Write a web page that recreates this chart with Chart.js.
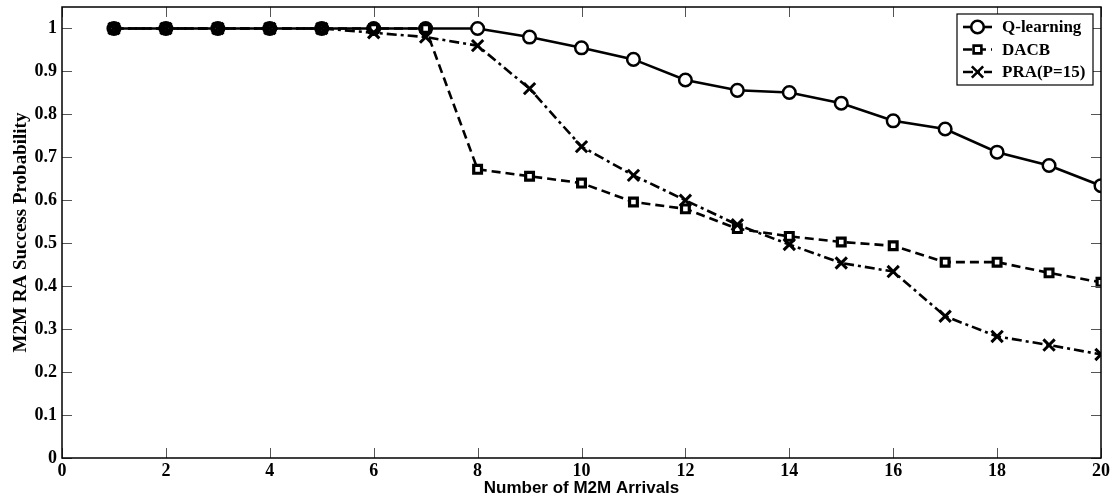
<!DOCTYPE html>
<html>
<head>
<meta charset="utf-8">
<script src="https://cdn.jsdelivr.net/npm/chart.js@4.4.1/dist/chart.umd.min.js"></script>
<style>
  html, body { margin: 0; padding: 0; background: #fff; }
  #wrap { width: 1112px; height: 499px; }
</style>
</head>
<body>
<div id="wrap"><canvas id="chart" width="1112" height="499"></canvas></div>
<script>
const arrivals = [1, 2, 3, 4, 5, 6, 7, 8, 9, 10, 11, 12, 13, 14, 15, 16, 17, 18, 19, 20];
const qLearning = [1, 1, 1, 1, 1, 1, 1, 1, 0.98, 0.955, 0.928, 0.88, 0.856, 0.851, 0.826, 0.785, 0.766, 0.712, 0.681, 0.634];
const dacb = [1, 1, 1, 1, 1, 1, 1, 0.672, 0.656, 0.64, 0.596, 0.58, 0.534, 0.516, 0.503, 0.494, 0.456, 0.456, 0.431, 0.409];
const pra = [1, 1, 1, 1, 1, 0.99, 0.98, 0.96, 0.86, 0.725, 0.658, 0.6, 0.543, 0.497, 0.454, 0.434, 0.33, 0.283, 0.263, 0.241];
const seriesNames = ['Q-learning', 'DACB', 'PRA(P=15)'];

const serif = '"Liberation Serif", "Times New Roman", serif';
const sans = '"Liberation Sans", Arial, sans-serif';

function pts(ys) {
  return arrivals.map((x, i) => ({ x: x, y: ys[i] }));
}

// inward ticks on all four sides + frame
const frameTicks = {
  id: 'frameTicks',
  afterDatasetsDraw(chart) {
    const ctx = chart.ctx;
    const a = chart.chartArea;
    const xs = chart.scales.x, ys = chart.scales.y;
    ctx.save();
    ctx.strokeStyle = '#555';
    ctx.lineWidth = 1;
    ctx.beginPath();
    xs.ticks.forEach(t => {
      const px = Math.round(xs.getPixelForValue(t.value)) + 0.5;
      ctx.moveTo(px, a.bottom); ctx.lineTo(px, a.bottom - 10);
      ctx.moveTo(px, a.top); ctx.lineTo(px, a.top + 10);
    });
    ys.ticks.forEach(t => {
      const py = Math.round(ys.getPixelForValue(t.value)) + 0.5;
      ctx.moveTo(a.left, py); ctx.lineTo(a.left + 10, py);
      ctx.moveTo(a.right, py); ctx.lineTo(a.right - 10, py);
    });
    ctx.stroke();
    ctx.strokeStyle = '#000';
    ctx.lineWidth = 1.5;
    ctx.strokeRect(a.left, a.top, a.right - a.left, a.bottom - a.top);
    ctx.restore();
  }
};

// boxed legend in the upper right corner of the plot
const boxLegend = {
  id: 'boxLegend',
  afterDraw(chart) {
    const ctx = chart.ctx;
    const a = chart.chartArea;
    const bx = a.right - 144, by = a.top + 7, bw = 136, bh = 71;
    ctx.save();
    ctx.fillStyle = '#fff';
    ctx.fillRect(bx, by, bw, bh);
    ctx.strokeStyle = '#000';
    ctx.lineWidth = 1.2;
    ctx.strokeRect(bx, by, bw, bh);
    seriesNames.forEach((name, i) => {
      const ds = chart.data.datasets.find(d => d.label === name);
      const cy = by + 13 + i * 22.5;
      ctx.strokeStyle = '#000';
      ctx.lineWidth = ds.borderWidth;
      ctx.setLineDash(ds.borderDash || []);
      ctx.beginPath();
      ctx.moveTo(bx + 6, cy); ctx.lineTo(bx + 35, cy);
      ctx.stroke();
      ctx.setLineDash([]);
      ctx.fillStyle = ds.pointBackgroundColor;
      Chart.helpers.drawPoint(ctx, {
        pointStyle: ds.pointStyle, radius: ds.pointRadius, borderWidth: ds.pointBorderWidth, rotation: 0
      }, bx + 20.5, cy);
      ctx.fillStyle = '#000';
      ctx.font = 'bold 17px ' + serif;
      ctx.textBaseline = 'middle';
      ctx.textAlign = 'left';
      ctx.fillText(name, bx + 45, cy + 1);
    });
    ctx.restore();
  }
};

new Chart(document.getElementById('chart'), {
  type: 'line',
  data: {
    datasets: [
      {
        label: seriesNames[0], data: pts(qLearning), order: 2,
        borderColor: '#000', borderWidth: 2.6,
        pointStyle: 'circle', pointRadius: 6.3, pointBorderWidth: 2.5,
        pointBackgroundColor: '#fff', pointBorderColor: '#000'
      },
      {
        label: seriesNames[1], data: pts(dacb), order: 1,
        borderColor: '#000', borderWidth: 2.6, borderDash: [9, 5],
        pointStyle: 'rect', pointRadius: 5.5, pointBorderWidth: 3.2,
        pointBackgroundColor: '#fff', pointBorderColor: '#000'
      },
      {
        label: seriesNames[2], data: pts(pra), order: 0,
        borderColor: '#000', borderWidth: 2.6, borderDash: [10, 4, 3, 4],
        pointStyle: 'crossRot', pointRadius: 8, pointBorderWidth: 3,
        pointBackgroundColor: '#000', pointBorderColor: '#000'
      }
    ]
  },
  options: {
    responsive: false,
    animation: false,
    layout: { autoPadding: false, padding: { top: 7, right: 11, left: 0, bottom: 0 } },
    plugins: {
      legend: { display: false },
      tooltip: { enabled: false }
    },
    scales: {
      x: {
        type: 'linear', min: 0, max: 20,
        grid: { display: false, drawTicks: false },
        border: { display: false },
        ticks: { stepSize: 2, color: '#000', font: { family: serif, size: 18, weight: 'bold' }, padding: 3, maxRotation: 0 },
        title: { display: true, text: 'Number of M2M Arrivals', color: '#000', font: { family: sans, size: 17, weight: 'bold' }, padding: { top: -3, bottom: 0 } },
        afterFit(scale) { scale.height = 41; scale.paddingLeft = 0; scale.paddingRight = 0; }
      },
      y: {
        type: 'linear', min: 0, max: 1.05,
        grid: { display: false, drawTicks: false },
        border: { display: false },
        ticks: { stepSize: 0.1, color: '#000', font: { family: serif, size: 18, weight: 'bold' }, padding: 5,
          callback: v => String(Math.round(v * 10) / 10) },
        afterBuildTicks(scale) { scale.ticks = scale.ticks.filter(t => t.value <= 1.0001); },
        title: { display: true, text: 'M2M RA Success Probability', color: '#000', font: { family: serif, size: 19, weight: 'bold' }, padding: { top: 10, bottom: 0 } },
        afterFit(scale) { scale.width = 62; scale.paddingTop = 0; scale.paddingBottom = 0; }
      }
    }
  },
  plugins: [frameTicks, boxLegend]
});
</script>
</body>
</html>
